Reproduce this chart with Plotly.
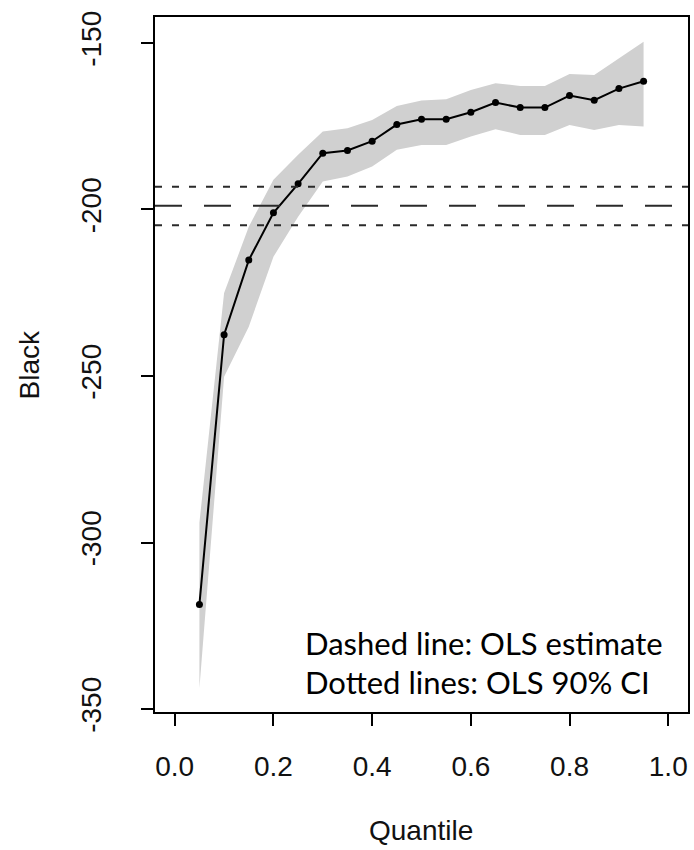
import plotly.graph_objects as go

# ---- data ----
quantiles = [0.05, 0.10, 0.15, 0.20, 0.25, 0.30, 0.35, 0.40, 0.45, 0.50,
             0.55, 0.60, 0.65, 0.70, 0.75, 0.80, 0.85, 0.90, 0.95]
estimate = [-318.6, -237.6, -215.2, -201.0, -192.3, -183.1, -182.3, -179.5, -174.5, -172.9,
            -172.9, -170.8, -167.9, -169.4, -169.4, -165.8, -167.2, -163.7, -161.5]
ci_upper = [-294.0, -225.1, -205.2, -191.1, -183.6, -176.6, -175.6, -173.1, -168.9, -167.3,
            -166.9, -164.1, -162.1, -162.9, -162.9, -159.3, -159.6, -154.6, -149.6]
ci_lower = [-343.8, -250.2, -235.2, -214.2, -202.2, -191.6, -190.1, -187.1, -182.1, -180.6,
            -180.6, -178.1, -175.9, -177.6, -177.6, -174.6, -176.1, -174.6, -175.1]
ols_estimate = -198.9
ols_ci_low = -204.7
ols_ci_high = -193.2

x_ticks = [0.0, 0.2, 0.4, 0.6, 0.8, 1.0]
x_tick_labels = ["0.0", "0.2", "0.4", "0.6", "0.8", "1.0"]
y_ticks = [-350, -300, -250, -200, -150]
y_tick_labels = ["-350", "-300", "-250", "-200", "-150"]
x_title = "Quantile"
y_title = "Black"
note_lines = ["Dashed line: OLS estimate", "Dotted lines: OLS 90% CI"]

W, H = 694, 850
L, R, T, B = 155, 4, 17, 138
plot_h = H - T - B

axis_font = dict(family="Arial", size=28, color="#111111")

fig = go.Figure()

# confidence band
fig.add_trace(go.Scatter(
    x=quantiles + quantiles[::-1],
    y=ci_upper + ci_lower[::-1],
    fill="toself", fillcolor="#d0d0d0",
    line=dict(width=0), mode="lines", hoverinfo="skip", showlegend=False))

# estimate line with points
fig.add_trace(go.Scatter(
    x=quantiles, y=estimate, mode="lines+markers",
    line=dict(color="black", width=2),
    marker=dict(color="black", size=7),
    showlegend=False))

# OLS lines
fig.add_shape(type="line", xref="paper", x0=0, x1=1, yref="y",
              y0=ols_estimate, y1=ols_estimate,
              line=dict(color="#2a2a2a", width=2, dash="27px,22px"))
for v in (ols_ci_low, ols_ci_high):
    fig.add_shape(type="line", xref="paper", x0=0, x1=1, yref="y",
                  y0=v, y1=v,
                  line=dict(color="#2a2a2a", width=2, dash="7px,10px"))

def py(pix):
    return (H - B - pix) / plot_h

fig.add_annotation(text=x_title, xref="paper", yref="paper",
                   x=(422 - L) / (W - L - R), y=py(831), xanchor="center", yanchor="middle",
                   showarrow=False, font=axis_font)
fig.add_annotation(text=y_title, xref="paper", yref="paper",
                   x=(30 - L) / (W - L - R), y=py(365), xanchor="center", yanchor="middle",
                   textangle=-90, showarrow=False, font=axis_font)

note_font = dict(family="Lato, sans-serif", size=31, color="black")
for line, yc in zip(note_lines, [643, 682]):
    fig.add_annotation(text=line, xref="paper", yref="paper",
                       x=(304 - L) / (W - L - R), y=py(yc), xanchor="left", yanchor="middle",
                       showarrow=False, font=note_font)

fig.update_xaxes(range=[-0.04, 1.04], tickvals=x_ticks, ticktext=x_tick_labels,
                 ticks="outside", ticklen=12, tickwidth=1.8, tickcolor="black",
                 showline=True, linecolor="black", linewidth=1.8, mirror=True,
                 showgrid=False, zeroline=False, tickfont=axis_font,
                 ticklabelstandoff=16)
fig.update_yaxes(range=[-350.9, -142.2], tickvals=y_ticks, ticktext=y_tick_labels,
                 ticks="outside", ticklen=12, tickwidth=1.8, tickcolor="black",
                 showline=True, linecolor="black", linewidth=1.8, mirror=True,
                 showgrid=False, zeroline=False, tickfont=axis_font, tickangle=-90,
                 ticklabelstandoff=29)

fig.update_layout(width=W, height=H, margin=dict(l=L, r=R, t=T, b=B),
                  plot_bgcolor="white", paper_bgcolor="white", showlegend=False)

fig.write_html("out.html")
